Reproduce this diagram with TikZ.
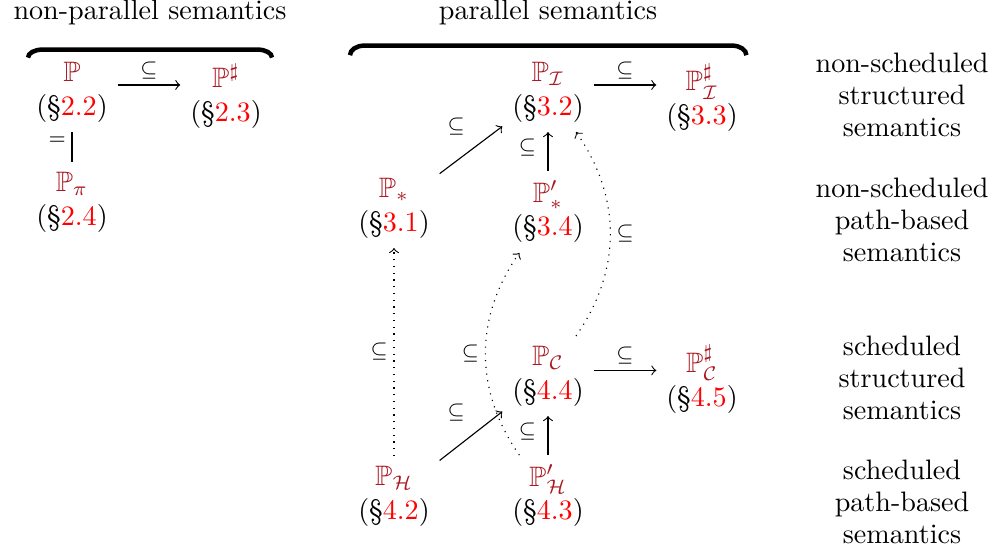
\documentclass[tikz,border=0pt]{standalone}
\usepackage{amsmath,amssymb}
\usepackage{tikz}

\definecolor{semred}{RGB}{170,25,35}

\begin{document}
\begin{tikzpicture}[
    sem/.style={align=center},
    rel/.style={font=\scriptsize, inner sep=2pt},
    group/.style={align=center, font=\fontsize{10}{11.4}\selectfont}
]
\useasboundingbox (0,0) rectangle (12.45,-6.9);

% non-parallel semantics
\node[sem] (P)      at (0.9,  -1.15) {$\color{semred}\mathbb{P}$\\(\S\textcolor{red}{2.2})};
\node[sem] (Psharp) at (2.825,-1.2)  {$\color{semred}\mathbb{P}^\sharp$\\(\S\textcolor{red}{2.3})};
\node[sem] (Ppi)    at (0.9,  -2.525) {$\color{semred}\mathbb{P}_\pi$\\(\S\textcolor{red}{2.4})};

% parallel semantics, non-scheduled
\node[sem] (PI)      at (6.85, -1.15) {$\color{semred}\mathbb{P}_{\mathcal{I}}$\\(\S\textcolor{red}{3.2})};
\node[sem] (PIsharp) at (8.775,-1.22) {$\color{semred}\mathbb{P}^\sharp_{\mathcal{I}}$\\(\S\textcolor{red}{3.3})};
\node[sem] (Pstar)   at (4.925,-2.6)  {$\color{semred}\mathbb{P}_*$\\(\S\textcolor{red}{3.1})};
\node[sem] (Pstarp)  at (6.85, -2.65) {$\color{semred}\mathbb{P}'_*$\\(\S\textcolor{red}{3.4})};

% parallel semantics, scheduled
\node[sem] (PC)      at (6.85, -4.7)  {$\color{semred}\mathbb{P}_{\mathcal{C}}$\\(\S\textcolor{red}{4.4})};
\node[sem] (PCsharp) at (8.775,-4.74) {$\color{semred}\mathbb{P}^\sharp_{\mathcal{C}}$\\(\S\textcolor{red}{4.5})};
\node[sem] (PH)      at (4.925,-6.2)  {$\color{semred}\mathbb{P}_{\mathcal{H}}$\\(\S\textcolor{red}{4.2})};
\node[sem] (PHp)     at (6.85, -6.2)  {$\color{semred}\mathbb{P}'_{\mathcal{H}}$\\(\S\textcolor{red}{4.3})};

% row descriptions
\node[group] (rowA) at (11.275,-1.1875) {non-scheduled\\structured\\semantics};
\node[group] (rowB) at (11.275,-2.75)   {non-scheduled\\path-based\\semantics};
\node[group] (rowC) at (11.275,-4.725)  {scheduled\\structured\\semantics};
\node[group] (rowD) at (11.275,-6.275)  {scheduled\\path-based\\semantics};

% braces
\node (nonpar) at (1.875,-0.156) {non-parallel semantics};
\node (par)    at (6.85, -0.15)  {parallel semantics};
\draw[ultra thick] (0.35,-0.72) arc[start angle=180, end angle=90, x radius=0.18, y radius=0.1]
    -- (3.22,-0.62) arc[start angle=90, end angle=0, x radius=0.18, y radius=0.1];
\draw[ultra thick] (4.375,-0.69) arc[start angle=180, end angle=90, x radius=0.18, y radius=0.12]
    -- (9.15,-0.57) arc[start angle=90, end angle=0, x radius=0.18, y radius=0.12];

% non-parallel edges
\draw[->] ([yshift=2.5pt]P.east) -- ([yshift=2.5pt]P.east -| Psharp.west)
    node[rel, midway, above] {$\subseteq$};
\draw (P) -- (Ppi) node[rel, pos=0.3, left] {$=$};

% non-scheduled edges
\draw[->] ([yshift=2.5pt]PI.east) -- ([yshift=2.5pt]PI.east -| PIsharp.west)
    node[rel, midway, above] {$\subseteq$};
\draw[->] (Pstar) -- (PI) node[rel, midway, above left, yshift=3pt] {$\subseteq$};
\draw[->] (Pstarp) -- (PI) node[rel, pos=0.6, left, xshift=-2pt] {$\subseteq$};

% scheduled edges
\draw[->] ([yshift=2pt]PC.east) -- ([yshift=2pt]PC.east -| PCsharp.west)
    node[rel, midway, above] {$\subseteq$};
\draw[->] (PH) -- (PC) node[rel, midway, above left, yshift=3pt] {$\subseteq$};
\draw[->] (PHp) -- (PC) node[rel, pos=0.6, left, xshift=-2pt] {$\subseteq$};

% scheduled into non-scheduled
\draw[->, dotted] (PH) -- (Pstar) node[rel, midway, left] {$\subseteq$};
\draw[->, dotted] (PHp) to[bend left=35] node[rel, midway, left] {$\subseteq$} (Pstarp);
\draw[->, dotted] (PC) to[bend right=35] node[rel, midway, right] {$\subseteq$} (PI);

\end{tikzpicture}
\end{document}
